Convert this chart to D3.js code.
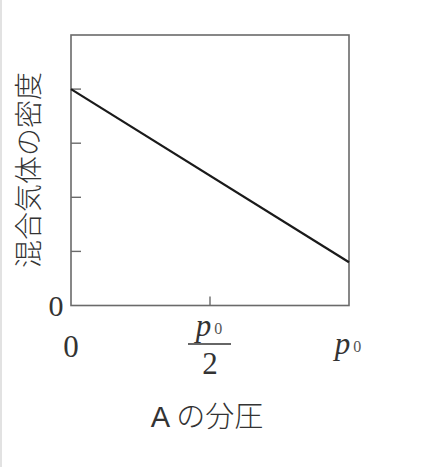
<!DOCTYPE html>
<html lang="ja">
<head>
<meta charset="UTF-8">
<title>混合気体の密度</title>
<script src="https://d3js.org/d3.v7.min.js"></script>
<style>
  body { margin: 0; background: #fff; }
  svg { display: block; }
  .num { font-family: 'Liberation Serif', 'DejaVu Serif', serif; fill: #333; }
  .jp { font-family: 'Noto Sans CJK JP', sans-serif; fill: #333; font-weight: 300; }
</style>
</head>
<body>
<div id="chart"></div>
<script>
// partial pressure of A, as a fraction of p0
const pressure = [0, 1];
// density of the mixed gas (arbitrary units, ticks every 1)
const density = [4, 0.8];
const yTicks = [1, 2, 3, 4];
const xTicks = [0.5];

const W = 432, H = 467;
const margin = {top: 35, right: 83, bottom: 162, left: 71};

const svg = d3.select("#chart").append("svg")
  .attr("width", W)
  .attr("height", H);

// faint page edge on the left
svg.append("rect")
  .attr("x", 0).attr("y", 0)
  .attr("width", 2).attr("height", H)
  .attr("fill", "#e2e2e2");

const x = d3.scaleLinear().domain([0, 1]).range([margin.left, W - margin.right]);
const y = d3.scaleLinear().domain([0, 5]).range([H - margin.bottom + 0.5, margin.top]);

// frame
svg.append("rect")
  .attr("x", x(0)).attr("y", y(5))
  .attr("width", x(1) - x(0)).attr("height", y(0) - y(5))
  .attr("fill", "none")
  .attr("stroke", "#6a6a6a")
  .attr("stroke-width", 1.6);

// inward ticks
svg.selectAll(".ytick").data(yTicks).enter().append("line")
  .attr("x1", x(0)).attr("x2", x(0) + 10)
  .attr("y1", d => y(d)).attr("y2", d => y(d))
  .attr("stroke", "#6a6a6a").attr("stroke-width", 1.4);

svg.selectAll(".xtick").data(xTicks).enter().append("line")
  .attr("x1", d => x(d)).attr("x2", d => x(d))
  .attr("y1", y(0)).attr("y2", y(0) - 9)
  .attr("stroke", "#6a6a6a").attr("stroke-width", 1.4);

// the data line
const line = d3.line().x((d, i) => x(pressure[i])).y(d => y(d));
svg.append("path")
  .datum(density)
  .attr("d", line)
  .attr("fill", "none")
  .attr("stroke", "#1a1a1a")
  .attr("stroke-width", 2.2);

// y "0"
svg.append("text").attr("class", "num")
  .attr("x", x(0) - 15).attr("y", y(0) + 10)
  .attr("text-anchor", "middle")
  .attr("font-size", 30)
  .text("0");

// x "0"
svg.append("text").attr("class", "num")
  .attr("x", x(0)).attr("y", y(0) + 51)
  .attr("text-anchor", "middle")
  .attr("font-size", 31)
  .text("0");

// p0 / 2
function p0(sel, cx, baseline) {
  const t = sel.append("text").attr("class", "num")
    .attr("x", cx).attr("y", baseline)
    .attr("text-anchor", "middle")
    .attr("font-size", 31);
  t.append("tspan").attr("font-style", "italic").text("p");
  t.append("tspan").attr("font-size", 16).attr("fill", "#555").attr("dx", 3).attr("dy", -2).text("0");
  return t;
}
p0(svg, x(0.5) - 1, 336);
svg.append("line")
  .attr("x1", x(0.5) - 22).attr("x2", x(0.5) + 21)
  .attr("y1", 344).attr("y2", 344)
  .attr("stroke", "#333").attr("stroke-width", 1.3);
svg.append("text").attr("class", "num")
  .attr("x", x(0.5)).attr("y", 374)
  .attr("text-anchor", "middle")
  .attr("font-size", 31)
  .text("2");

// p0 at the right end
p0(svg, x(1) - 1, 354);

// axis titles
const xt = svg.append("text").attr("class", "jp")
  .attr("x", 207).attr("y", 427)
  .attr("text-anchor", "middle")
  .attr("font-size", 29);
xt.append("tspan").attr("font-family", "'Liberation Sans', sans-serif").text("A");
xt.append("tspan").attr("dx", 6).text("の分圧");

svg.append("text").attr("class", "jp")
  .attr("transform", "translate(39,170) rotate(-90)")
  .attr("text-anchor", "middle")
  .attr("font-size", 28)
  .text("混合気体の密度");
</script>
</body>
</html>
